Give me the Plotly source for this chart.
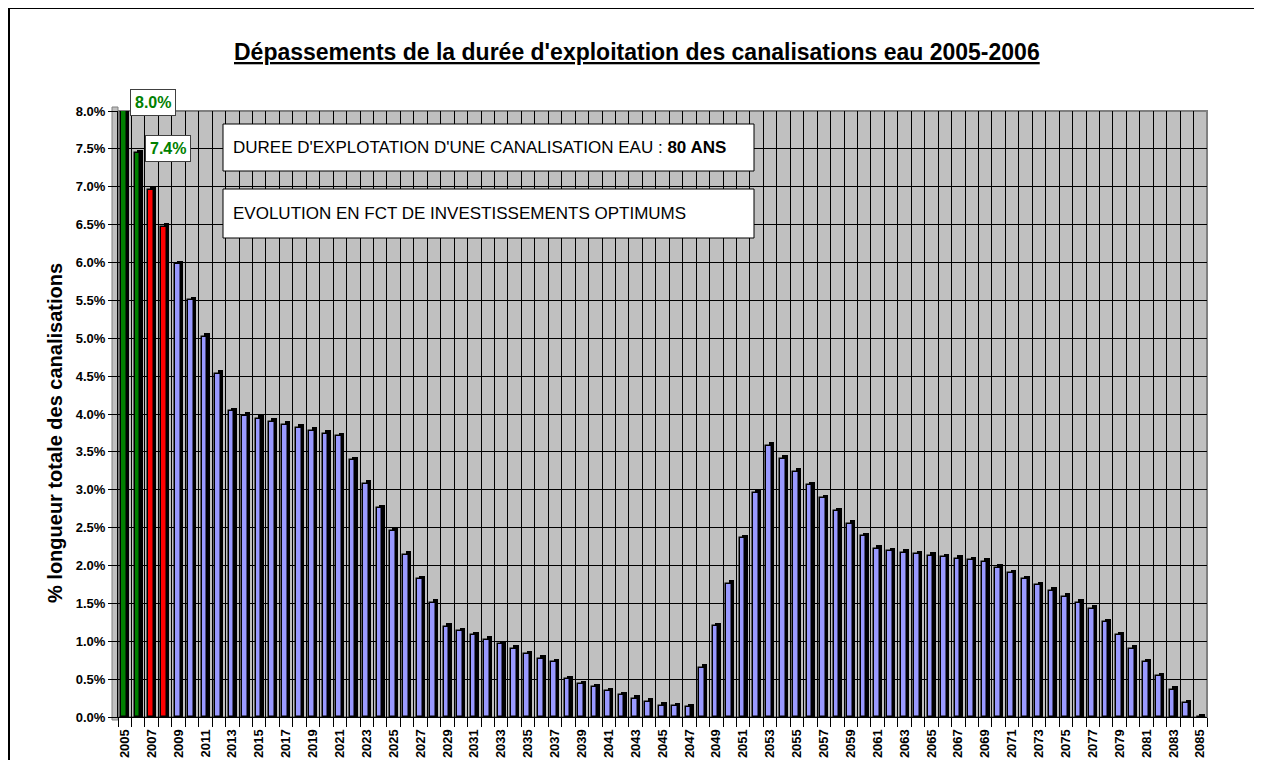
import plotly.graph_objects as go

years = list(range(2005, 2086))
values = [
    8.00, 7.44, 6.96, 6.47, 5.98, 5.50, 5.02, 4.53, 4.04, 3.98,
    3.94, 3.90, 3.86, 3.82, 3.78, 3.74, 3.71, 3.39, 3.08, 2.76,
    2.45, 2.14, 1.82, 1.51, 1.19, 1.13, 1.08, 1.02, 0.96, 0.90,
    0.83, 0.77, 0.72, 0.50, 0.43, 0.39, 0.34, 0.29, 0.24, 0.20,
    0.15, 0.14, 0.13, 0.65, 1.20, 1.76, 2.36, 2.96, 3.58, 3.41,
    3.24, 3.06, 2.89, 2.72, 2.55, 2.39, 2.22, 2.19, 2.17, 2.15,
    2.13, 2.11, 2.09, 2.07, 2.05, 1.97, 1.90, 1.82, 1.74, 1.67,
    1.59, 1.51, 1.43, 1.25, 1.08, 0.90, 0.72, 0.54, 0.36, 0.18,
    0.00,
]
tick_years = years[::2]
tick_labels = [str(y) for y in tick_years]

title_text = "Dépassements de la durée d'exploitation des canalisations eau 2005-2006"
ytitle_text = "% longueur totale des canalisations"
box1_text = "DUREE D'EXPLOTATION D'UNE CANALISATION EAU : <b>80 ANS</b>"
box2_text = "EVOLUTION EN FCT DE INVESTISSEMENTS OPTIMUMS"

colors = ["#008000"] * 2 + ["#FF0000"] * 2 + ["#9999FF"] * (len(years) - 4)

FONT = "Liberation Sans, Arial, sans-serif"

fig = go.Figure()
# 3D depth (dark side / cap) behind each bar
fig.add_trace(go.Bar(
    x=years, y=[v + 0.045 for v in values], width=0.42, offset=-0.09,
    marker=dict(color="black", line=dict(width=0)), hoverinfo="skip", showlegend=False,
))
fig.add_trace(go.Bar(
    x=years, y=values, width=0.42, offset=-0.27,
    marker=dict(color=colors, line=dict(color="black", width=1.5)), showlegend=False,
))

# the page places the figure at (8, 8); targets below are in page pixels
OFF = 8
W, H = 1254, 752
L, R, T, B = 110, 55, 103, 43
pw, ph = W - L - R, H - T - B


def px(x):
    return (x - OFF - L) / pw


def py(y):
    return (H - B - (y - OFF)) / ph


fig.update_layout(
    width=W, height=H,
    margin=dict(l=L, r=R, t=T, b=B, pad=0),
    paper_bgcolor="white", plot_bgcolor="#C0C0C0",
    barmode="overlay", bargap=0,
    font=dict(family=FONT, color="black"),
    xaxis=dict(
        type="linear", range=[2004.5, 2085.5], automargin=False,
        tickmode="array", tickvals=tick_years, ticktext=tick_labels,
        tickangle=-90, tickfont=dict(size=13, family=FONT, color="black", weight="bold"),
        ticks="outside", ticklen=6, tickcolor="rgba(0,0,0,0)",
        showgrid=False, zeroline=False,
        showline=True, linecolor="black", linewidth=1,
        minor=dict(tickmode="linear", tick0=2004.5, dtick=1, ticks="outside",
                   ticklen=9, tickcolor="black", showgrid=True,
                   gridcolor="black", gridwidth=1),
    ),
    yaxis=dict(
        range=[0, 8], tickmode="linear", tick0=0, dtick=0.5, automargin=False,
        tickformat=".1f", ticksuffix="%",
        tickfont=dict(size=13, family=FONT, color="black", weight="bold"),
        ticks="outside", ticklen=9, tickcolor="black",
        showgrid=True, gridcolor="black", gridwidth=1, zeroline=False,
        showline=True, linecolor="black", linewidth=1,
    ),
    shapes=[
        # outer chart frame: top and left edges
        dict(type="line", xref="paper", yref="paper",
             x0=px(8), x1=px(1262), y0=py(8), y1=py(8),
             line=dict(color="black", width=2)),
        dict(type="line", xref="paper", yref="paper",
             x0=px(9), x1=px(9), y0=py(8), y1=py(760),
             line=dict(color="black", width=2)),
        # plot-area back wall edge
        dict(type="rect", xref="paper", yref="paper", x0=0, x1=1, y0=0, y1=1,
             line=dict(color="#808080", width=2), layer="below"),
        # 3D side wall on the left of the plot area
        dict(type="rect", xref="paper", yref="paper",
             x0=px(112), x1=px(118), y0=py(720), y1=py(107),
             line=dict(color="#808080", width=1), fillcolor="#C0C0C0", layer="below"),
        # text boxes
        dict(type="rect", xref="paper", yref="paper",
             x0=px(223), x1=px(754), y0=py(171), y1=py(124),
             line=dict(color="black", width=1), fillcolor="white", layer="above"),
        dict(type="rect", xref="paper", yref="paper",
             x0=px(223), x1=px(754), y0=py(238), y1=py(189),
             line=dict(color="black", width=1), fillcolor="white", layer="above"),
    ],
    annotations=[
        dict(text="<b><u>" + title_text + "</u></b>", xref="paper", yref="paper",
             x=px(637), y=py(52), xanchor="center", yanchor="middle",
             showarrow=False, font=dict(size=23, family=FONT, color="black")),
        dict(text="<b>" + ytitle_text + "</b>", xref="paper", yref="paper",
             x=px(55), y=py(433), xanchor="center", yanchor="middle", textangle=-90,
             showarrow=False, font=dict(size=20, family=FONT, color="black")),
        dict(text=box1_text, xref="paper", yref="paper",
             x=px(231), y=py(147.5), xanchor="left", yanchor="middle",
             showarrow=False, font=dict(size=17, family=FONT, color="black")),
        dict(text=box2_text, xref="paper", yref="paper",
             x=px(231), y=py(213.5), xanchor="left", yanchor="middle",
             showarrow=False, font=dict(size=17, family=FONT, color="black")),
        dict(text="<b>%.1f%%</b>" % values[0], x=years[0], y=values[0],
             xanchor="left", yanchor="middle", xshift=5, yshift=9,
             showarrow=False, bgcolor="white", bordercolor="#404040",
             borderwidth=1, borderpad=4,
             font=dict(size=16, family=FONT, color="#008000")),
        dict(text="<b>%.1f%%</b>" % values[1], x=years[1], y=values[1],
             xanchor="left", yanchor="middle", xshift=7, yshift=5,
             showarrow=False, bgcolor="white", bordercolor="#404040",
             borderwidth=1, borderpad=4,
             font=dict(size=16, family=FONT, color="#008000")),
    ],
)

fig.write_html("out.html")
